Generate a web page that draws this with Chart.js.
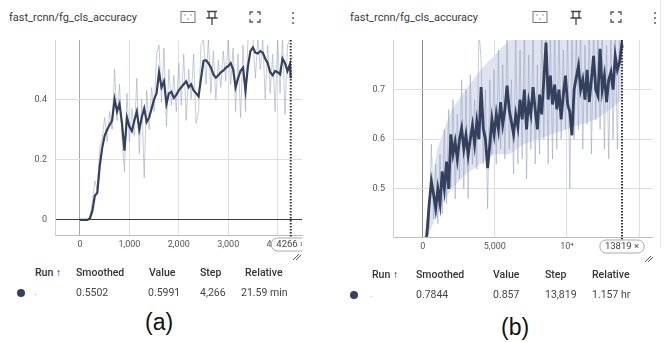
<!DOCTYPE html>
<html>
<head>
<meta charset="utf-8">
<script src="https://cdn.jsdelivr.net/npm/chart.js@4"></script>
<style>
  body{margin:0;width:671px;height:342px;background:#fff;position:relative;overflow:hidden;font-family:Roboto,"Noto Sans",sans-serif;color:#333;}
  .box{position:absolute;}
  .title{position:absolute;top:11px;font-size:11px;color:#3a3a3a;white-space:nowrap;}
  .ico{position:absolute;top:10px;}
  .th,.td{position:absolute;font-size:10.5px;white-space:nowrap;}
  .th{font-weight:500;color:#333;}
  .td{color:#444;}
  .dot{position:absolute;width:8px;height:8px;border-radius:50%;background:#34425f;}
  .cap{position:absolute;font-family:"Liberation Sans",Arial,sans-serif;font-size:23px;color:#111;}
  .sep{position:absolute;left:660px;top:0;width:1px;height:248px;background:#e6e6e6;}
</style>
</head>
<body>
<!-- panel (a) header -->
<div class="title" style="left:9px">fast_rcnn/fg_cls_accuracy</div>
<svg class="ico" style="left:180px" width="16" height="14"><rect x="1" y="1.5" width="14" height="11" fill="none" stroke="#777" stroke-width="1"/><circle cx="5" cy="5" r=".7" fill="#777"/><circle cx="11" cy="5" r=".7" fill="#777"/><circle cx="8" cy="9" r=".7" fill="#777"/></svg>
<svg class="ico" style="left:205px" width="14" height="16"><path d="M2 1.5h10M4 1.5v6M10 1.5v6M1.5 8h11M7 8v7" stroke="#444" stroke-width="1.3" fill="none"/></svg>
<svg class="ico" style="left:248px" width="14" height="14"><path d="M2 5V2h3M9 2h3v3M12 9v3H9M5 12H2V9" stroke="#555" stroke-width="1.3" fill="none"/></svg>
<svg class="ico" style="left:290px" width="6" height="16"><circle cx="3" cy="3" r="1.1" fill="#666"/><circle cx="3" cy="8" r="1.1" fill="#666"/><circle cx="3" cy="13" r="1.1" fill="#666"/></svg>

<!-- panel (b) header -->
<div class="title" style="left:350px">fast_rcnn/fg_cls_accuracy</div>
<svg class="ico" style="left:532px" width="16" height="14"><rect x="1" y="1.5" width="14" height="11" fill="none" stroke="#777" stroke-width="1"/><circle cx="5" cy="5" r=".7" fill="#777"/><circle cx="11" cy="5" r=".7" fill="#777"/><circle cx="8" cy="9" r=".7" fill="#777"/></svg>
<svg class="ico" style="left:569px" width="14" height="16"><path d="M2 1.5h10M4 1.5v6M10 1.5v6M1.5 8h11M7 8v7" stroke="#444" stroke-width="1.3" fill="none"/></svg>
<svg class="ico" style="left:609px" width="14" height="14"><path d="M2 5V2h3M9 2h3v3M12 9v3H9M5 12H2V9" stroke="#555" stroke-width="1.3" fill="none"/></svg>
<svg class="ico" style="left:652px" width="6" height="16"><circle cx="3" cy="3" r="1.1" fill="#666"/><circle cx="3" cy="8" r="1.1" fill="#666"/><circle cx="3" cy="13" r="1.1" fill="#666"/></svg>
<div class="sep"></div>

<div class="box" style="left:0;top:0;width:340px;height:262px"><canvas id="chartA"></canvas></div>
<div class="box" style="left:340px;top:0;width:320px;height:262px"><canvas id="chartB"></canvas></div>

<!-- resize handles -->
<svg class="box" style="left:292px;top:251px" width="10" height="10"><path d="M1 9L7 3M4 9L9 4" stroke="#555" stroke-width="1"/></svg>
<svg class="box" style="left:644px;top:253px" width="10" height="10"><path d="M1 9L7 3M4 9L9 4" stroke="#555" stroke-width="1"/></svg>

<!-- tables -->
<div class="th" style="left:35px;top:266px">Run ↑</div>
<div class="th" style="left:76px;top:266px">Smoothed</div>
<div class="th" style="left:149px;top:266px">Value</div>
<div class="th" style="left:200px;top:266px">Step</div>
<div class="th" style="left:245px;top:266px">Relative</div>
<div class="dot" style="left:17px;top:289px"></div>
<div class="td" style="left:34px;top:285px;color:#bbb">.</div>
<div class="td" style="left:76px;top:286px">0.5502</div>
<div class="td" style="left:148px;top:286px">0.5991</div>
<div class="td" style="left:200px;top:286px">4,266</div>
<div class="td" style="left:241px;top:286px">21.59 min</div>

<div class="th" style="left:372px;top:268px">Run ↑</div>
<div class="th" style="left:416px;top:268px">Smoothed</div>
<div class="th" style="left:493px;top:268px">Value</div>
<div class="th" style="left:545px;top:268px">Step</div>
<div class="th" style="left:592px;top:268px">Relative</div>
<div class="dot" style="left:350px;top:291px"></div>
<div class="td" style="left:370px;top:287px;color:#bbb">.</div>
<div class="td" style="left:416px;top:288px">0.7844</div>
<div class="td" style="left:493px;top:288px">0.857</div>
<div class="td" style="left:545px;top:288px">13,819</div>
<div class="td" style="left:592px;top:288px">1.157 hr</div>

<div class="cap" style="left:145px;top:309px">(a)</div>
<div class="cap" style="left:501px;top:314px">(b)</div>

<script>
/* ---------- DATA (a) ---------- */
const stepsA=[0,50,100,150,200,250,300,350,400,450,
  500,550,600,650,700,750,800,850,900,950,
  1000,1050,1100,1150,1200,1250,1300,1350,1400,1450,
  1500,1550,1600,1650,1700,1750,1800,1850,1900,1950,
  2000,2050,2100,2150,2200,2250,2300,2350,2400,2450,
  2500,2550,2600,2650,2700,2750,2800,2850,2900,2950,
  3000,3050,3100,3150,3200,3250,3300,3350,3400,3450,
  3500,3550,3600,3650,3700,3750,3800,3850,3900,3950,
  4000,4050,4100,4150,4200,4250,4266];
const rawA=[0,0,0,0,0.01,0.06,0.13,0.1,0.24,0.27,
  0.34,0.26,0.36,0.3,0.5,0.33,0.45,0.27,0.16,0.42,
  0.26,0.37,0.28,0.47,0.22,0.4,0.14,0.43,0.3,0.44,
  0.36,0.55,0.58,0.39,0.57,0.31,0.5,0.38,0.48,0.36,
  0.52,0.38,0.55,0.33,0.5,0.4,0.55,0.32,0.36,0.58,
  0.6,0.45,0.6,0.42,0.56,0.4,0.53,0.44,0.56,0.46,
  0.6,0.45,0.57,0.36,0.55,0.34,0.58,0.36,0.6,0.6,
  0.6,0.47,0.6,0.5,0.6,0.4,0.58,0.42,0.55,0.36,
  0.6,0.42,0.6,0.35,0.58,0.6,0.599];
const smoothA=[0,0,0,0,0.005,0.03,0.08,0.09,0.18,0.24,
  0.28,0.3,0.315,0.33,0.4,0.36,0.385,0.32,0.23,0.34,
  0.31,0.295,0.33,0.36,0.3,0.34,0.37,0.325,0.34,0.37,
  0.4,0.42,0.49,0.44,0.46,0.385,0.42,0.425,0.405,0.415,
  0.43,0.44,0.45,0.46,0.44,0.45,0.43,0.42,0.41,0.47,
  0.528,0.53,0.52,0.505,0.483,0.472,0.48,0.49,0.495,0.505,
  0.51,0.52,0.5,0.44,0.47,0.495,0.505,0.43,0.51,0.56,
  0.572,0.555,0.552,0.56,0.555,0.535,0.52,0.49,0.48,0.494,
  0.49,0.483,0.535,0.52,0.494,0.517,0.47];
const xTicksA=[0,1000,2000,3000,4000];
const yTicksA=[0,0.2,0.4];
const lastStepA=4266;

/* ---------- DATA (b) ---------- */
const stepsB=[150,300,450,600,750,900,1050,1200,1350,1500,
  1650,1800,1950,2100,2250,2400,2550,2700,2850,3000,
  3150,3300,3450,3600,3750,3900,4050,4200,4350,4500,
  4650,4800,4950,5100,5250,5400,5550,5700,5850,6000,
  6150,6300,6450,6600,6750,6900,7050,7200,7350,7500,
  7650,7800,7950,8100,8250,8400,8550,8700,8850,9000,
  9150,9300,9450,9600,9750,9900,10050,10200,10350,10500,
  10650,10800,10950,11100,11250,11400,11550,11700,11850,12000,
  12150,12300,12450,12600,12750,12900,13050,13200,13350,13500,
  13650,13800,13819];
const rawB=[0.4,0.44,0.42,0.59,0.44,0.55,0.43,0.57,0.45,0.62,
  0.47,0.66,0.5,0.68,0.48,0.65,0.52,0.72,0.5,0.7,
  0.48,0.73,0.55,0.68,0.54,0.82,0.76,0.55,0.7,0.46,
  0.72,0.57,0.74,0.55,0.78,0.58,0.75,0.56,0.82,0.58,
  0.72,0.53,0.82,0.55,0.78,0.56,0.82,0.52,0.77,0.58,
  0.82,0.55,0.75,0.57,0.82,0.6,0.82,0.55,0.82,0.56,
  0.82,0.58,0.82,0.6,0.78,0.62,0.82,0.5,0.82,0.6,
  0.82,0.62,0.82,0.58,0.79,0.63,0.82,0.57,0.82,0.64,
  0.82,0.62,0.82,0.58,0.79,0.56,0.82,0.6,0.82,0.58,
  0.82,0.82,0.857];
const smoothB=[0.38,0.41,0.47,0.515,0.49,0.46,0.5,0.47,0.535,0.5,
  0.555,0.5,0.61,0.57,0.595,0.56,0.6,0.622,0.58,0.608,
  0.568,0.6,0.628,0.59,0.635,0.6,0.705,0.622,0.6,0.542,
  0.588,0.64,0.61,0.65,0.62,0.675,0.63,0.66,0.708,0.66,
  0.635,0.61,0.65,0.625,0.68,0.64,0.7,0.62,0.675,0.65,
  0.705,0.66,0.62,0.69,0.65,0.72,0.795,0.68,0.728,0.67,
  0.71,0.66,0.7,0.64,0.69,0.728,0.67,0.655,0.608,0.7,
  0.725,0.748,0.7,0.72,0.68,0.74,0.675,0.72,0.768,0.7,
  0.688,0.782,0.7,0.728,0.675,0.72,0.735,0.7,0.768,0.74,
  0.755,0.79,0.784];
const bandStepsB=[300,1000,2000,3000,4000,5000,6000,7000,8000,9000,10000,11000,12000,13000,13819];
const bandLowB=[0.4,0.45,0.5,0.53,0.55,0.57,0.57,0.59,0.6,0.61,0.62,0.63,0.64,0.66,0.68];
const bandHighB=[0.45,0.58,0.66,0.7,0.74,0.77,0.8,0.82,0.82,0.82,0.82,0.82,0.82,0.82,0.82];
const xTicksB=[0,5000,10000,15000];
const yTicksB=[0.5,0.6,0.7];
const lastStepB=13819;

/* ---------- HELPERS ---------- */
const pts=(xs,ys)=>xs.map((x,i)=>({x,y:ys[i]}));
const RAW="rgba(150,160,188,0.55)",DARK="#33415e",BAND="#dfe3f0";

const markerPlugin={id:"marker",
  afterDatasetsDraw(chart,args,o){
    const {ctx,chartArea:a,scales:{x}}=chart;const px=x.getPixelForValue(o.step);
    ctx.save();
    ctx.strokeStyle="#333";ctx.lineWidth=2;ctx.setLineDash([1.5,1.5]);
    ctx.beginPath();ctx.moveTo(px,a.top);ctx.lineTo(px,a.bottom+4);ctx.stroke();ctx.setLineDash([]);
    ctx.beginPath();ctx.rect(0,0,a.right,chart.height);ctx.clip();
    ctx.font="9.5px Roboto";const w=ctx.measureText(o.label).width+10,h=13,bx=px-w/2,by=a.bottom+3;
    ctx.beginPath();ctx.roundRect(bx,by,w,h,6);ctx.fillStyle="#fff";ctx.fill();
    ctx.strokeStyle="#aaa";ctx.lineWidth=1;ctx.stroke();
    ctx.fillStyle="#444";ctx.textAlign="center";ctx.textBaseline="middle";ctx.fillText(o.label,px,by+h/2+0.5);
    ctx.restore();}};

function makeChart(id,cfg){
  return new Chart(document.getElementById(id),{type:"line",
    data:{datasets:cfg.datasets},
    options:{responsive:true,maintainAspectRatio:false,animation:false,
      layout:{padding:cfg.pad},
      elements:{point:{radius:0},line:{tension:0}},
      plugins:{legend:{display:false},tooltip:{enabled:false},marker:{step:cfg.step,label:cfg.badge}},
      scales:{
        x:{type:"linear",min:cfg.xMin,max:cfg.xMax,
          afterBuildTicks:s=>{s.ticks=cfg.xTicks.map(v=>({value:v}));},
          afterFit:s=>{s.height=cfg.xH;},
          ticks:{color:"#555",font:{size:9,family:"Roboto"},padding:4,maxRotation:0,autoSkip:false,callback:cfg.xFmt},
          grid:{drawTicks:false,color:c=>c.tick&&c.tick.value===0?cfg.x0:"#dedede"},
          border:{display:true,color:"#bdbdbd"}},
        y:{min:cfg.yMin,max:cfg.yMax,
          afterBuildTicks:s=>{s.ticks=cfg.yTicks.map(v=>({value:v}));},
          afterFit:s=>{s.width=cfg.yW;},
          ticks:{color:"#555",font:{size:9,family:"Roboto"},padding:8,callback:v=>String(v)},
          grid:{drawTicks:false,color:c=>c.tick&&c.tick.value===0?"#3a3a3a":"#dedede"},
          border:{display:true,color:"#cfcfcf"}}}},
    plugins:[markerPlugin]});
}

/* ---------- CHARTS ---------- */
makeChart("chartA",{
  datasets:[
    {data:pts(stepsA,smoothA),borderColor:DARK,borderWidth:2.2,order:0},
    {data:pts(stepsA,rawA),borderColor:RAW,borderWidth:1,order:1}],
  pad:{left:0,right:38,top:40,bottom:0},xH:27,yW:55,
  xMin:-506,xMax:4494,yMin:-0.05,yMax:0.597,xTicks:xTicksA,yTicks:yTicksA,x0:"#a8a8a8",
  xFmt:v=>v.toLocaleString("en-US"),step:lastStepA,badge:"4266 ×"});

makeChart("chartB",{
  datasets:[
    {data:pts(bandStepsB,bandLowB),borderColor:"transparent",borderWidth:0,order:3},
    {data:pts(bandStepsB,bandHighB),borderColor:"transparent",borderWidth:0,backgroundColor:BAND,fill:"-1",order:2},
    {data:pts(stepsB,smoothB),borderColor:DARK,borderWidth:2.8,order:0},
    {data:pts(stepsB,rawB),borderColor:RAW,borderWidth:1,order:1}],
  pad:{left:0,right:8,top:40,bottom:0},xH:25,yW:53,
  xMin:-2060,xMax:15900,yMin:0.403,yMax:0.8,xTicks:xTicksB,yTicks:yTicksB,x0:"#8a8a8a",
  xFmt:v=>v===10000?"10⁴":v===15000?"":v.toLocaleString("en-US"),step:lastStepB,badge:"13819 ×"});
</script>
</body>
</html>
